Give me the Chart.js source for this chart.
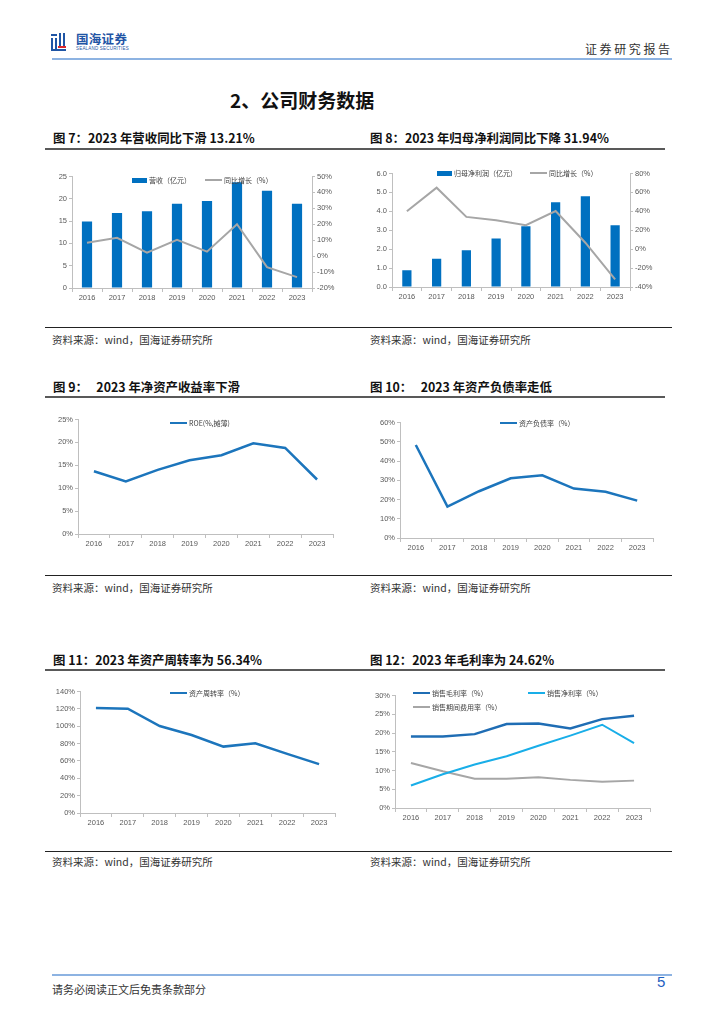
<!DOCTYPE html>
<html>
<head>
<meta charset="utf-8">
<script src="https://cdn.jsdelivr.net/npm/chart.js@4.4.1/dist/chart.umd.min.js"></script>
<style>
body{margin:0;width:724px;height:1024px;position:relative;background:#fff;overflow:hidden;font-family:"Noto Sans CJK SC",sans-serif}
.a{position:absolute}
.ttl{position:absolute;font-size:12.4px;font-weight:bold;color:#111;white-space:nowrap;line-height:16px}
.ul{position:absolute;height:1.5px;background:#595959}
.sl{position:absolute;height:1px;background:#222;left:45px;width:627px}
.src{position:absolute;font-size:10.5px;color:#333;white-space:nowrap;line-height:12px}
.wrap{position:absolute}
.lg{position:absolute;display:flex;align-items:center;font-size:7px;color:#404040;white-space:nowrap;line-height:10px;height:10px}
.lg .mk{display:inline-block;margin-right:2px}
</style>
</head>
<body>

<!-- header -->
<div class="a" style="left:51px;top:34px;width:6px;height:2px;background:#1f55a5"></div>
<div class="a" style="left:51px;top:38px;width:2px;height:12px;background:#1f55a5"></div>
<div class="a" style="left:55px;top:38px;width:2px;height:12px;background:#1f55a5"></div>
<div class="a" style="left:59px;top:33px;width:2px;height:13px;background:#1f55a5"></div>
<div class="a" style="left:63px;top:33px;width:2px;height:13px;background:#1f55a5"></div>
<div class="a" style="left:58px;top:46px;width:8px;height:2px;background:#d9262c"></div>
<div class="a" style="left:51px;top:49px;width:15px;height:2px;background:#1f55a5"></div>
<div class="a" style="left:76px;top:31px;font-size:12.5px;font-weight:bold;color:#1f55a5;letter-spacing:0.3px;line-height:15px">国海证券</div>
<div class="a" style="left:76px;top:46px;font-size:4.5px;color:#1f55a5;font-family:'Liberation Sans';letter-spacing:0.2px;line-height:5px">SEALAND SECURITIES</div>
<div class="a" style="left:585px;top:42px;font-size:12px;color:#333;letter-spacing:2.6px;line-height:14px">证券研究报告</div>
<div class="a" style="left:52px;top:58px;width:620px;height:2px;background:#8db3e2"></div>

<div class="a" style="left:230px;top:88px;font-size:19px;font-weight:bold;color:#111;line-height:24px">2、公司财务数据</div>

<!-- row 1 -->
<div class="ttl" style="left:53px;top:130px">图 7：2023 年营收同比下滑 13.21%</div>
<div class="ul" style="left:45px;top:148px;width:320px"></div>
<div class="ttl" style="left:370px;top:130px">图 8：2023 年归母净利润同比下降 31.94%</div>
<div class="ul" style="left:362px;top:148px;width:303px"></div>
<div class="wrap" style="left:40px;top:170px;width:310px;height:136px"><canvas id="c7"></canvas></div>
<div class="wrap" style="left:360px;top:167px;width:305px;height:138px"><canvas id="c8"></canvas></div>
<div class="sl" style="top:327px"></div>
<div class="src" style="left:52px;top:334px">资料来源：wind，国海证券研究所</div>
<div class="src" style="left:370px;top:334px">资料来源：wind，国海证券研究所</div>

<!-- row 2 -->
<div class="ttl" style="left:53px;top:379px">图 9：&nbsp;&nbsp;&nbsp;2023 年净资产收益率下滑</div>
<div class="ul" style="left:45px;top:396px;width:320px"></div>
<div class="ttl" style="left:370px;top:379px">图 10：&nbsp;&nbsp;&nbsp;2023 年资产负债率走低</div>
<div class="ul" style="left:362px;top:396px;width:303px"></div>
<div class="wrap" style="left:45px;top:413px;width:295px;height:139px"><canvas id="c9"></canvas></div>
<div class="wrap" style="left:365px;top:416px;width:295px;height:140px"><canvas id="c10"></canvas></div>
<div class="sl" style="top:575px"></div>
<div class="src" style="left:52px;top:582px">资料来源：wind，国海证券研究所</div>
<div class="src" style="left:370px;top:582px">资料来源：wind，国海证券研究所</div>

<!-- row 3 -->
<div class="ttl" style="left:53px;top:652px">图 11：2023 年资产周转率为 56.34%</div>
<div class="ul" style="left:45px;top:669px;width:320px"></div>
<div class="ttl" style="left:370px;top:652px">图 12：2023 年毛利率为 24.62%</div>
<div class="ul" style="left:362px;top:669px;width:303px"></div>
<div class="wrap" style="left:45px;top:685px;width:297px;height:146px"><canvas id="c11"></canvas></div>
<div class="wrap" style="left:365px;top:689px;width:292px;height:137px"><canvas id="c12"></canvas></div>
<div class="sl" style="top:851px"></div>
<div class="src" style="left:52px;top:856px">资料来源：wind，国海证券研究所</div>
<div class="src" style="left:370px;top:856px">资料来源：wind，国海证券研究所</div>

<!-- footer -->
<div class="a" style="left:52px;top:974px;width:620px;height:2px;background:#8db3e2"></div>
<div class="a" style="left:52px;top:983px;font-size:11px;color:#333;line-height:13px">请务必阅读正文后免责条款部分</div>
<div class="a" style="left:657px;top:973px;font-size:15px;color:#1f5fbf;font-family:'Liberation Sans';line-height:18px">5</div>

<script>
// categories
const years = ['2016', '2017', '2018', '2019', '2020', '2021', '2022', '2023'];

// 图7 营收 (亿元) and yoy (%)
const revenue = [14.9, 16.8, 17.2, 18.9, 19.5, 23.7, 21.8, 18.9];
const revenueYoy = [8.4, 11.5, 2.2, 10.2, 2.8, 20.0, -6.9, -13.2];
// 图8 归母净利润 (亿元) and yoy (%)
const netProfit = [0.88, 1.50, 1.94, 2.56, 3.21, 4.48, 4.80, 3.26];
const netProfitYoy = [40.1, 65.0, 34.1, 30.6, 25.3, 40.3, 6.8, -31.9];
// 图9 ROE (%, 摊薄)
const roe = [13.7, 11.5, 14.0, 16.1, 17.2, 19.8, 18.8, 11.9];
// 图10 资产负债率 (%)
const debtRatio = [48.3, 16.3, 24.3, 31.0, 32.6, 25.7, 24.0, 19.4];
// 图11 资产周转率 (%)
const assetTurnover = [121.0, 120.2, 100.2, 89.9, 76.5, 80.3, 68.1, 56.3];
// 图12 销售毛利率 / 销售净利率 / 销售期间费用率 (%)
const grossMargin = [19.1, 19.1, 19.7, 22.4, 22.5, 21.2, 23.7, 24.6];
const netMargin = [6.0, 9.0, 11.6, 13.8, 16.6, 19.3, 22.2, 17.3];
const expenseRatio = [12.0, 9.8, 7.8, 7.8, 8.2, 7.5, 7.0, 7.3];

// tick labels
const revTicks = [0, 5, 10, 15, 20, 25];
const revYoyTicks = [-20, -10, 0, 10, 20, 30, 40, 50];
const profitTicks = [0, 1, 2, 3, 4, 5, 6];
const profitYoyTicks = [-40, -20, 0, 20, 40, 60, 80];
const roeTicks = [0, 5, 10, 15, 20, 25];
const debtTicks = [0, 10, 20, 30, 40, 50, 60];
const turnoverTicks = [0, 20, 40, 60, 80, 100, 120, 140];
const marginTicks = [0, 5, 10, 15, 20, 25, 30];

Chart.defaults.font.family = 'Liberation Sans';
Chart.defaults.font.size = 7.5;
Chart.defaults.color = '#595959';

const axisColor = '#bfbfbf';
const pct = (v) => v + '%';

function xAxis() {
    return {
        offset: true,
        grid: { offset: true, drawOnChartArea: false, color: axisColor, tickLength: 4 },
        border: { color: axisColor },
        ticks: { padding: 1, maxRotation: 0, autoSkip: false },
        afterFit: (s) => { s.height = 18; },
    };
}

function yAxis(ticks, fmt, side, width) {
    return {
        position: side,
        min: ticks[0],
        max: ticks[ticks.length - 1],
        grid: { drawOnChartArea: false, color: axisColor, tickLength: 3 },
        border: { color: axisColor },
        ticks: { padding: 2, callback: fmt },
        afterBuildTicks: (s) => { s.ticks = ticks.map((v) => ({ value: v })); },
        afterFit: (s) => { s.width = width; },
    };
}

function line(label, data, color, width, axis) {
    return {
        type: 'line', label: label, data: data, yAxisID: axis || 'y',
        borderColor: color, backgroundColor: color, borderWidth: width,
        pointRadius: 0, tension: 0, order: 0,
    };
}

function draw(id, type, datasets, scales, padRight) {
    return new Chart(document.getElementById(id), {
        type: type,
        data: { labels: years, datasets: datasets },
        options: {
            responsive: true,
            maintainAspectRatio: false,
            animation: false,
            layout: { padding: { top: 6, right: padRight, left: 0, bottom: 0 } },
            plugins: { legend: { display: false }, tooltip: { enabled: false } },
            scales: scales,
        },
    });
}

// html legend built from the chart's own legend items
function htmlLegend(chart, spots) {
    const items = Chart.defaults.plugins.legend.labels.generateLabels(chart)
        .sort((a, b) => a.datasetIndex - b.datasetIndex);
    items.forEach((it, i) => {
        const ds = chart.data.datasets[it.datasetIndex];
        const isBar = (ds.type || chart.config.type) === 'bar';
        const el = document.createElement('div');
        el.className = 'lg';
        el.style.left = spots[i][0] + 'px';
        el.style.top = (spots[i][1] - 5) + 'px';
        const mk = document.createElement('span');
        mk.className = 'mk';
        if (isBar) {
            mk.style.width = '15px'; mk.style.height = '5px'; mk.style.background = ds.backgroundColor;
        } else {
            mk.style.width = '17px'; mk.style.height = ds.borderWidth + 'px'; mk.style.background = ds.borderColor;
        }
        const tx = document.createElement('span');
        tx.textContent = it.text;
        el.appendChild(mk);
        el.appendChild(tx);
        document.body.appendChild(el);
    });
}

const blue = '#0070c0';
const gray = '#a6a6a6';
const lineBlue = '#1c75bc';

const c7 = draw('c7', 'bar', [
    { label: '营收（亿元）', data: revenue, backgroundColor: blue, yAxisID: 'y',
      categoryPercentage: 1, barPercentage: 0.34, order: 1 },
    line('同比增长（%）', revenueYoy, gray, 2, 'y1'),
], { x: xAxis(), y: yAxis(revTicks, (v) => v, 'left', 32), y1: yAxis(revYoyTicks, pct, 'right', 38) }, 0);
htmlLegend(c7, [[132, 180], [205, 180]]);

const c8 = draw('c8', 'bar', [
    { label: '归母净利润（亿元）', data: netProfit, backgroundColor: blue, yAxisID: 'y',
      categoryPercentage: 1, barPercentage: 0.31, order: 1 },
    line('同比增长（%）', netProfitYoy, gray, 2, 'y1'),
], { x: xAxis(), y: yAxis(profitTicks, (v) => v.toFixed(1), 'left', 32), y1: yAxis(profitYoyTicks, pct, 'right', 35) }, 0);
htmlLegend(c8, [[437, 173], [530, 173]]);

const c9 = draw('c9', 'line', [line('ROE(%,摊薄)', roe, lineBlue, 2.5)],
    { x: xAxis(), y: yAxis(roeTicks, pct, 'left', 33) }, 7);
htmlLegend(c9, [[170, 423]]);

const c10 = draw('c10', 'line', [line('资产负债率（%）', debtRatio, lineBlue, 2.5)],
    { x: xAxis(), y: yAxis(debtTicks, pct, 'left', 35) }, 7);
htmlLegend(c10, [[500, 423]]);

const c11 = draw('c11', 'line', [line('资产周转率（%）', assetTurnover, lineBlue, 2.5)],
    { x: xAxis(), y: yAxis(turnoverTicks, pct, 'left', 35) }, 7);
htmlLegend(c11, [[170, 693]]);

const c12 = draw('c12', 'line', [
    line('销售毛利率（%）', grossMargin, '#1f6db4', 2.5),
    line('销售净利率（%）', netMargin, '#19aee8', 2),
    line('销售期间费用率（%）', expenseRatio, gray, 2),
], { x: xAxis(), y: yAxis(marginTicks, pct, 'left', 30) }, 7);
htmlLegend(c12, [[413, 693], [528, 693], [413, 707]]);
</script>
</body>
</html>
